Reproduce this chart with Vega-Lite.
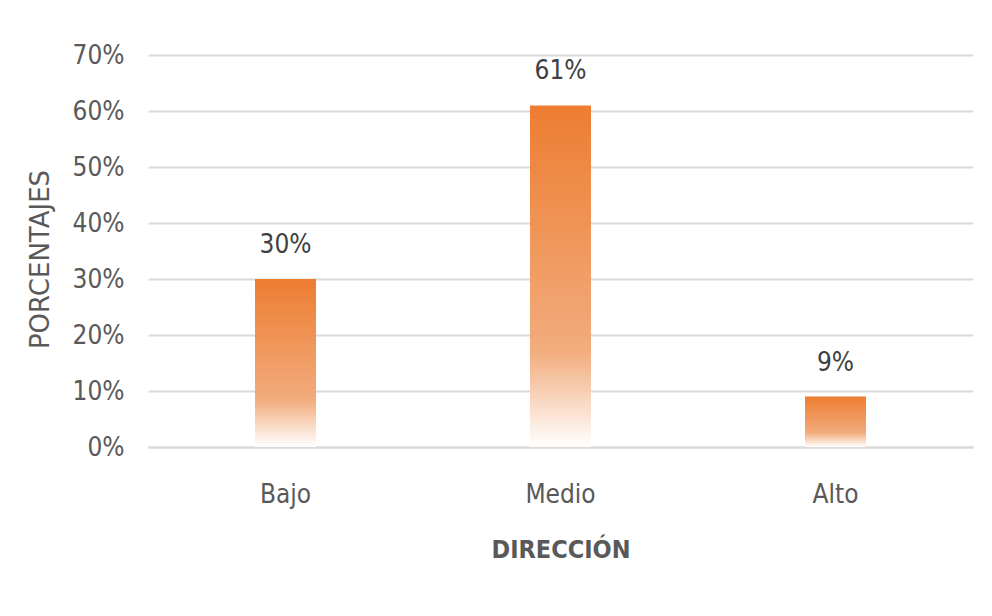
{
  "$schema": "https://vega.github.io/schema/vega-lite/v6.json",
  "autosize": "none",
  "width": 825,
  "height": 392,
  "padding": {"left": 148, "top": 55, "right": 19, "bottom": 169},
  "background": "white",
  "config": {
    "view": {"stroke": null},
    "font": "DejaVu Sans Condensed, sans-serif"
  },
  "data": {
    "values": [
      {"nivel": "Bajo", "valor": 0.30},
      {"nivel": "Medio", "valor": 0.61},
      {"nivel": "Alto", "valor": 0.09}
    ]
  },
  "encoding": {
    "x": {
      "field": "nivel",
      "type": "nominal",
      "sort": ["Bajo", "Medio", "Alto"],
      "scale": {"paddingInner": 0, "paddingOuter": 0},
      "axis": {
        "title": "DIRECCIÓN",
        "labelAngle": 0,
        "labelFontSize": 26,
        "labelColor": "#595959",
        "labelPadding": 34,
        "labelFont": "DejaVu Sans Condensed, sans-serif",
        "ticks": false,
        "domainColor": "#D9D9D9",
        "domainWidth": 2,
        "titleFontSize": 25,
        "titleFontWeight": "bold",
        "titleColor": "#595959",
        "titlePadding": 30,
        "titleFont": "DejaVu Sans Condensed, sans-serif"
      }
    },
    "y": {
      "field": "valor",
      "type": "quantitative",
      "scale": {"domain": [0, 0.7]},
      "axis": {
        "title": "PORCENTAJES",
        "format": ".0%",
        "values": [0, 0.1, 0.2, 0.3, 0.4, 0.5, 0.6, 0.7],
        "labelFontSize": 26,
        "labelColor": "#595959",
        "labelPadding": 24,
        "labelFont": "DejaVu Sans Condensed, sans-serif",
        "ticks": false,
        "domain": false,
        "gridColor": "#D9D9D9",
        "gridWidth": 2,
        "titleFont": "DejaVu Sans, sans-serif",
        "titleFontSize": 26,
        "titleFontWeight": "normal",
        "titleColor": "#595959",
        "titleX": -108,
        "titleY": 204,
        "titleAngle": -90,
        "titleAlign": "center",
        "titleBaseline": "middle"
      }
    }
  },
  "layer": [
    {
      "mark": {
        "type": "bar",
        "size": 61,
        "color": {
          "gradient": "linear",
          "x1": 0, "y1": 0, "x2": 0, "y2": 1,
          "stops": [
            {"offset": 0, "color": "#ED7D31"},
            {"offset": 0.72, "color": "#F2AC7D"},
            {"offset": 0.85, "color": "#F8D3BA"},
            {"offset": 1, "color": "#FFFFFF"}
          ]
        }
      }
    },
    {
      "mark": {
        "type": "text",
        "baseline": "bottom",
        "dy": -21,
        "fontSize": 26,
        "color": "#404040",
        "font": "DejaVu Sans Condensed, sans-serif"
      },
      "encoding": {
        "text": {"field": "valor", "type": "quantitative", "format": ".0%"}
      }
    }
  ]
}
